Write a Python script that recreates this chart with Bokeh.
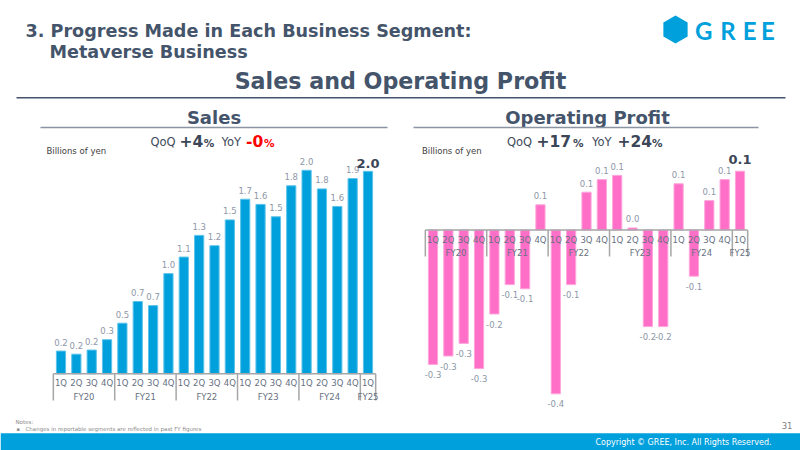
import numpy as np
from bokeh.plotting import figure
from bokeh.models import Range1d, ColumnDataSource
from bokeh.embed import file_html
from bokeh.resources import INLINE
from bokeh.core.properties import value

# ---------------- data ----------------
quarters = ["1Q", "2Q", "3Q", "4Q"] * 5 + ["1Q"]
fiscal_years = ["FY20", "FY21", "FY22", "FY23", "FY24", "FY25"]
quarters_per_year = [4, 4, 4, 4, 4, 1]
sales = [0.22, 0.19, 0.23, 0.33, 0.49, 0.70, 0.66, 0.97, 1.13, 1.34, 1.24,
         1.49, 1.69, 1.64, 1.52, 1.82, 1.97, 1.79, 1.62, 1.89, 1.96]
op_profit = [-0.32, -0.30, -0.27, -0.33, -0.20, -0.13, -0.14, 0.06, -0.39,
             -0.13, 0.09, 0.12, 0.13, 0.005, -0.23, -0.23, 0.11, -0.11, 0.07,
             0.12, 0.14]
sales_qoq, sales_yoy = "+4", "-0"
op_qoq, op_yoy = "+17", "+24"

# ---------------- style ----------------
FONT = value("DejaVu Sans")
DARK = "#44546A"
BLUE = "#00A0DC"
PINK = "#FF6EC7"
VAL_GRAY = "#8D97A8"
AX_GRAY = "#67717F"
SEP_GRAY = "#A6A6A6"

p = figure(width=800, height=450, x_range=Range1d(0, 800), y_range=Range1d(450, 0),
           x_axis_location=None, y_axis_location=None, toolbar_location=None,
           output_backend="svg", min_border=0)
p.grid.visible = False
p.outline_line_color = None
p.background_fill_color = "white"
p.border_fill_color = "white"

STEP = 15.35


def idx_range(x0):
    return Range1d(-x0 / STEP, (800 - x0) / STEP)


def val_range(zero_px, px_per_unit):
    return Range1d(-(450 - zero_px) / px_per_unit, zero_px / px_per_unit)


p.extra_x_ranges = {"sx": idx_range(60.5), "ox": idx_range(432.5)}
p.extra_y_ranges = {"sy": val_range(373.3, 103.3), "oy": val_range(229.5, 420.0)}


def txt(x, y, s, size, color=DARK, style="normal", align="left", baseline="middle", font=FONT):
    p.text(x=[x], y=[y], text=[s], text_font=font, text_font_size=f"{size}px",
           text_color=color, text_font_style=style, text_align=align,
           text_baseline=baseline)


def on_base(x, base, s, size, **kw):
    # place text so that its capitals sit on the given baseline
    txt(x, base - 0.36 * size, s, size, **kw)


def draw_chart(vals, xr, yr, color, edge, axis_y, ql_y, fy_y, sep_bottom, last_off):
    n = len(vals)
    idx = list(range(n))
    p.vbar(x=idx, top=vals, bottom=0, width=0.6, x_range_name=xr, y_range_name=yr,
           fill_color=color, line_color=edge, line_width=1)
    # axis baseline
    p.segment(x0=[-0.5], y0=[0], x1=[n - 0.5], y1=[0], x_range_name=xr, y_range_name=yr,
              line_color=SEP_GRAY, line_width=1.5)
    # group separators
    bounds = [-0.5] + list(np.cumsum(quarters_per_year) - 0.5)
    p.segment(x0=bounds, y0=[axis_y] * len(bounds), x1=bounds, y1=[sep_bottom] * len(bounds),
              x_range_name=xr, line_color=SEP_GRAY, line_width=1.5)
    # quarter labels
    p.text(x=idx, y=[ql_y] * n, text=quarters, x_range_name=xr, text_font=FONT,
           text_font_size="8.5px", text_color=AX_GRAY, text_align="center",
           text_baseline="middle")
    # FY labels
    starts = np.concatenate([[0], np.cumsum(quarters_per_year)[:-1]])
    centers = [s + (k - 1) / 2 for s, k in zip(starts, quarters_per_year)]
    p.text(x=centers, y=[fy_y] * len(centers), text=fiscal_years, x_range_name=xr,
           text_font=FONT, text_font_size="8.5px", text_color=AX_GRAY,
           text_align="center", text_baseline="middle")
    # value labels
    src = ColumnDataSource(dict(
        x=idx[:-1], y=vals[:-1],
        label=[f"{v:.1f}" for v in vals[:-1]],
        off=[-9 if v >= 0 else 10 for v in vals[:-1]]))
    p.text(x="x", y="y", text="label", y_offset="off", source=src, x_range_name=xr,
           y_range_name=yr, text_font=FONT, text_font_size="8.5px", text_color=VAL_GRAY,
           text_align="center", text_baseline="middle")
    p.text(x=[idx[-1]], y=[vals[-1]], text=[f"{vals[-1]:.1f}"], y_offset=last_off,
           x_range_name=xr, y_range_name=yr, text_font=FONT, text_font_size="13px",
           text_font_style="bold", text_color="#3B4656", text_align="center",
           text_baseline="middle")


draw_chart(sales, "sx", "sy", BLUE, "#5CC3EA", 373.3, 382.7, 396.0, 400.0, -8)
draw_chart(op_profit, "ox", "oy", PINK, "#FFA6DC", 229.5, 239.0, 252.0, 256.0, -12)

# ---------------- titles ----------------
txt(25, 30.4, "3. Progress Made in Each Business Segment:", 17.6, style="bold")
txt(49, 51.2, "Metaverse Business", 17.6, style="bold")
txt(400, 80.2, "Sales and Operating Profit", 22.2, style="bold", align="center")
p.segment(x0=[16], y0=[97.3], x1=[785], y1=[97.3], line_color=DARK, line_width=1.5)

txt(213.5, 117, "Sales", 18, style="bold", align="center")
txt(587, 117, "Operating Profit", 18, style="bold", align="center")
p.segment(x0=[40, 413], y0=[127, 127], x1=[387, 758], y1=[127, 127],
          line_color="#8A94A3", line_width=1.5)

txt(46, 150, "Billions of yen", 8.5, color="#404040")
txt(421.5, 150, "Billions of yen", 8.5, color="#404040")

# QoQ / YoY
on_base(150, 146, "QoQ", 11.5, color="#404A5A")
on_base(179, 146, sales_qoq, 15.5, color="#3B4656", style="bold")
on_base(203.3, 146, "%", 10.5, color="#3B4656", style="bold")
on_base(221, 146, "YoY", 11.5, color="#404A5A")
on_base(245.5, 146, sales_yoy, 15.5, color="#FF0000", style="bold")
on_base(263.5, 146, "%", 10.5, color="#FF0000", style="bold")

on_base(506.5, 146, "QoQ", 11.5, color="#404A5A")
on_base(536, 146, op_qoq, 15.5, color="#3B4656", style="bold")
on_base(572.5, 146, "%", 10.5, color="#3B4656", style="bold")
on_base(591.5, 146, "YoY", 11.5, color="#404A5A")
on_base(617, 146, op_yoy, 15.5, color="#3B4656", style="bold")
on_base(651.5, 146, "%", 10.5, color="#3B4656", style="bold")

# ---------------- logo ----------------
p.scatter(x=[675], y=[29], marker="hex", size=28, angle=np.pi / 2,
          fill_color=BLUE, line_color=None)
for cx, ch in zip([703.3, 727.5, 749.2, 767.5], ["G", "R", "E", "E"]):
    txt(cx, 29.5, ch, 24, color=BLUE, align="center", style="bold", font=value("Lato"))

# ---------------- footer ----------------
txt(15, 421.5, "Notes:", 5.5, color="#8C8C8C")
txt(16, 428.7, "\u25aa", 5, color="#8C8C8C")
txt(25, 428.7, "Changes in reportable segments are reflected in past FY figures", 5.5,
    color="#8C8C8C")
txt(792, 425, "31", 8.5, color="#7F7F7F", align="right")
p.quad(left=[0], right=[800], top=[432.7], bottom=[450], fill_color=BLUE, line_color=None)
txt(771, 442.3, "Copyright \u00a9 GREE, Inc. All Rights Reserved.", 8, color="white",
    align="right")

open("out.html", "w").write(file_html(p, INLINE))
